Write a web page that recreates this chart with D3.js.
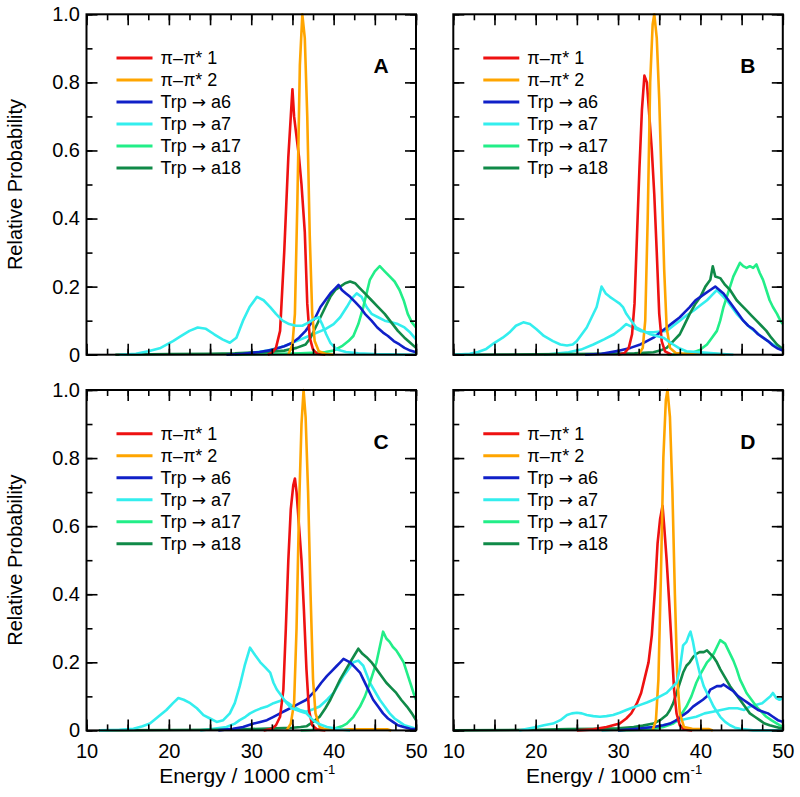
<!DOCTYPE html>
<html><head><meta charset="utf-8">
<script src="https://cdn.jsdelivr.net/npm/d3@7"></script>
<style>body{margin:0;background:#fff}svg{display:block}text{font-family:"Liberation Sans",Arial,Helvetica,sans-serif}</style>
</head><body>
<svg id="chart" width="800" height="797"></svg>
<script>
// ---------- DATA (energy in 1000 cm^-1, relative probability) ----------
const panelLabels = ["A","B","C","D"];
const seriesNames = ["π–π* 1","π–π* 2","Trp → a6","Trp → a7","Trp → a17","Trp → a18"];
const seriesColors = ["#ee1111","#ffa500","#1020c8","#33eeee","#22ee88","#108a48"];
const xTickLabels = [10,20,30,40,50];
const yTickLabels = [0,0.2,0.4,0.6,0.8,1.0];

// Panel A
const A_red = [[32,0],[32.5,0.005],[33,0.02],[33.5,0.07],[34,0.3],[34.5,0.58],[34.8,0.7],[35,0.78],[35.2,0.7],[35.5,0.64],[35.8,0.58],[36.1,0.5],[36.5,0.36],[36.8,0.15],[37.1,0.05],[37.5,0.015],[38,0.003],[39,0]];
const A_orange = [[34.5,0],[35,0.03],[35.3,0.12],[35.6,0.45],[35.9,0.85],[36.2,1.0],[36.5,0.93],[36.8,0.7],[37.1,0.35],[37.4,0.12],[37.7,0.04],[38.2,0.01],[39,0.003],[40,0]];
const A_blue = [[27,0],[29,0.003],[31,0.008],[32.7,0.015],[34,0.025],[35,0.035],[35.8,0.05],[36.6,0.07],[37.2,0.09],[37.8,0.11],[38.4,0.14],[39,0.16],[39.6,0.18],[40.2,0.195],[40.6,0.205],[41,0.19],[41.5,0.18],[42,0.17],[42.6,0.155],[43.2,0.14],[43.8,0.12],[44.6,0.1],[45.3,0.08],[46,0.065],[46.6,0.055],[47.3,0.04],[48,0.03],[48.6,0.02],[49.3,0.012],[50,0.007]];
const A_cyan = [[14,0],[16,0.003],[17.5,0.01],[19,0.02],[20.5,0.04],[21.5,0.055],[22.5,0.07],[23.5,0.08],[24.5,0.076],[25.5,0.06],[26.5,0.045],[27.4,0.035],[28.2,0.05],[29,0.1],[29.8,0.14],[30.7,0.17],[31.5,0.16],[32.3,0.14],[33,0.12],[33.8,0.1],[34.6,0.09],[35.4,0.085],[36.2,0.085],[37,0.095],[37.6,0.105],[38.2,0.11],[38.6,0.09],[39.1,0.06],[39.6,0.035],[40.4,0.015],[41.5,0.008],[43,0.004],[45,0.002],[50,0]];
const A_cyan2 = [[27,0],[30,0.005],[32,0.012],[34,0.025],[35.5,0.04],[37,0.055],[38,0.065],[39,0.075],[40,0.09],[40.8,0.11],[41.6,0.14],[42.2,0.165],[42.8,0.18],[43.4,0.17],[44,0.14],[44.6,0.12],[45.4,0.11],[46.2,0.1],[47,0.095],[47.8,0.09],[48.6,0.08],[49.3,0.065],[50,0.045]];
const A_ltgreen = [[28,0],[32,0.002],[36,0.004],[38,0.006],[39,0.008],[40,0.012],[41,0.025],[41.8,0.04],[42.4,0.055],[43,0.09],[43.6,0.14],[44,0.18],[44.4,0.22],[45,0.245],[45.6,0.26],[46.2,0.245],[46.8,0.23],[47.4,0.215],[48,0.19],[48.5,0.16],[49,0.12],[49.5,0.095],[50,0.08]];
const A_dkgreen = [[13.5,0],[20,0.002],[25,0.003],[28,0.004],[30,0.006],[32,0.008],[34,0.012],[35.5,0.02],[36.6,0.03],[37.2,0.05],[37.8,0.08],[38.4,0.11],[39,0.14],[39.6,0.17],[40.2,0.19],[40.8,0.2],[41.4,0.21],[42,0.215],[42.6,0.21],[43.2,0.195],[43.8,0.18],[44.6,0.16],[45.4,0.14],[46.2,0.12],[47,0.095],[47.8,0.07],[48.6,0.05],[49.3,0.035],[50,0.02]];

// Panel B
const B_red = [[30,0],[30.8,0.005],[31.3,0.02],[31.7,0.06],[32,0.15],[32.3,0.35],[32.6,0.55],[32.9,0.72],[33.2,0.82],[33.5,0.8],[33.8,0.7],[34.1,0.6],[34.4,0.47],[34.7,0.3],[35,0.12],[35.3,0.04],[35.7,0.01],[36.5,0]];
const B_orange = [[32.5,0],[33,0.02],[33.3,0.1],[33.6,0.4],[33.9,0.8],[34.2,0.97],[34.4,1.0],[34.7,0.93],[35,0.75],[35.3,0.5],[35.6,0.25],[35.9,0.08],[36.3,0.02],[37,0.005],[38,0.003],[40,0.004],[42,0.002],[43,0]];
const B_blue = [[26,0],[28,0.003],[30.2,0.012],[31.5,0.02],[32.7,0.03],[33.5,0.04],[34.3,0.05],[35.1,0.065],[35.9,0.08],[36.7,0.095],[37.5,0.11],[38.1,0.125],[38.7,0.14],[39.4,0.16],[40,0.17],[40.6,0.18],[41.2,0.19],[41.8,0.2],[42.3,0.19],[42.8,0.18],[43.4,0.16],[44,0.14],[44.6,0.12],[45.2,0.1],[45.8,0.085],[46.4,0.075],[47,0.06],[47.6,0.05],[48.2,0.04],[48.8,0.027],[49.4,0.018],[50,0.012]];
const B_cyan = [[10,0],[12,0.003],[13,0.008],[14,0.017],[15,0.035],[16,0.05],[16.8,0.065],[17.6,0.085],[18.5,0.095],[19.3,0.09],[20.1,0.075],[21,0.055],[22.1,0.04],[23,0.03],[23.8,0.027],[24.5,0.03],[25,0.04],[25.6,0.06],[26.2,0.08],[26.8,0.11],[27.4,0.14],[28,0.2],[28.5,0.18],[29,0.17],[29.6,0.16],[30.2,0.15],[30.6,0.14],[31,0.12],[31.6,0.1],[32.2,0.08],[33,0.07],[33.9,0.06],[34.7,0.055],[35.5,0.05],[36.1,0.04],[36.7,0.03],[37.5,0.018],[38.3,0.01],[40.4,0.006],[42.4,0.003],[44,0]];
const B_cyan2 = [[21,0],[24,0.007],[25.5,0.015],[27,0.03],[28.3,0.045],[29.5,0.06],[30.3,0.075],[31,0.09],[31.8,0.08],[32.7,0.07],[33.5,0.066],[34.3,0.066],[35.1,0.068],[35.9,0.07],[36.7,0.085],[37.5,0.1],[38.3,0.115],[39.2,0.13],[40,0.145],[40.8,0.16],[41.4,0.175],[42,0.19],[42.6,0.175],[43.2,0.16],[43.8,0.14],[44.4,0.12],[45.2,0.1],[46,0.08],[46.8,0.065],[47.6,0.05],[48.2,0.04],[48.8,0.03],[49.4,0.022],[50,0.017]];
const B_ltgreen = [[36,0],[38,0.003],[39.2,0.007],[40,0.015],[40.8,0.03],[41.4,0.05],[42,0.07],[42.4,0.1],[42.8,0.14],[43.2,0.17],[43.6,0.2],[44,0.23],[44.4,0.25],[44.8,0.27],[45.2,0.26],[45.6,0.255],[46,0.26],[46.4,0.255],[46.8,0.265],[47.2,0.24],[47.6,0.22],[48,0.19],[48.4,0.16],[48.8,0.14],[49.3,0.12],[49.7,0.1],[50,0.09]];
const B_dkgreen = [[10,0],[20,0.001],[28,0.003],[32,0.004],[34.3,0.007],[35.1,0.012],[35.9,0.02],[36.7,0.04],[37.5,0.06],[38.1,0.09],[38.7,0.12],[39.4,0.15],[40,0.17],[40.6,0.2],[41.2,0.22],[41.5,0.26],[41.8,0.23],[42.4,0.225],[43,0.205],[43.6,0.19],[44.4,0.16],[45,0.145],[45.6,0.13],[46.2,0.115],[46.8,0.1],[47.4,0.085],[48,0.07],[48.6,0.05],[49.3,0.03],[50,0.017]];

// Panel C
const C_red = [[31.5,0],[32.5,0.005],[33,0.015],[33.5,0.04],[33.9,0.12],[34.2,0.3],[34.5,0.5],[34.8,0.65],[35.1,0.72],[35.3,0.74],[35.5,0.7],[35.8,0.6],[36.1,0.5],[36.4,0.35],[36.7,0.18],[37,0.06],[37.4,0.015],[38,0.003],[39,0]];
const C_orange = [[34.3,0],[34.8,0.02],[35.2,0.08],[35.5,0.3],[35.8,0.65],[36.1,0.9],[36.35,1.0],[36.6,0.92],[36.9,0.7],[37.2,0.4],[37.5,0.15],[37.8,0.05],[38.3,0.01],[39,0.003],[43,0.003],[46.5,0.003],[47,0]];
const C_blue = [[26,0],[27.8,0.005],[29,0.01],[30.3,0.02],[31.1,0.025],[31.9,0.03],[32.7,0.04],[33.5,0.05],[34.3,0.06],[35.1,0.07],[35.9,0.08],[36.7,0.09],[37.3,0.105],[37.9,0.12],[38.5,0.14],[39.2,0.16],[39.8,0.175],[40.4,0.19],[40.8,0.2],[41.2,0.21],[41.6,0.205],[42,0.2],[42.6,0.185],[43.2,0.17],[43.6,0.15],[44,0.13],[44.4,0.11],[44.8,0.09],[45.4,0.07],[46,0.05],[46.6,0.035],[47.2,0.025],[47.8,0.015],[48.5,0.01],[49.3,0.005],[50,0.003]];
const C_cyan = [[11.6,0],[14,0.002],[15.7,0.005],[16.8,0.012],[17.7,0.02],[18.7,0.04],[19.7,0.06],[20.5,0.08],[21.15,0.095],[21.8,0.09],[22.6,0.08],[23.4,0.065],[24.2,0.045],[25,0.035],[25.8,0.025],[26.6,0.03],[27.4,0.05],[28,0.08],[28.6,0.13],[29.2,0.19],[29.85,0.243],[30.5,0.22],[31.1,0.2],[31.7,0.185],[32.3,0.17],[32.7,0.14],[33.1,0.12],[33.7,0.1],[34.3,0.08],[34.9,0.065],[35.5,0.06],[36.1,0.055],[36.7,0.05],[37.5,0.03],[38.3,0.018],[39.2,0.01],[40.8,0.003],[42,0]];
const C_cyan2 = [[23.8,0],[25.4,0.005],[27,0.01],[28,0.02],[28.6,0.03],[29.3,0.04],[29.85,0.05],[30.5,0.058],[31.1,0.064],[31.9,0.07],[32.7,0.08],[33.3,0.085],[33.9,0.09],[34.5,0.08],[35.1,0.07],[35.9,0.06],[36.7,0.055],[37.5,0.062],[38.3,0.07],[39.2,0.09],[40,0.11],[40.6,0.135],[41.2,0.16],[41.8,0.18],[42.4,0.2],[43,0.205],[43.6,0.19],[44,0.165],[44.4,0.14],[45,0.115],[45.6,0.09],[46.2,0.07],[46.8,0.05],[47.4,0.035],[48,0.025],[48.6,0.015],[49.3,0.01],[50,0.005]];
const C_ltgreen = [[36,0],[38,0.002],[40,0.005],[41,0.012],[41.6,0.02],[42.4,0.04],[43.2,0.07],[43.8,0.1],[44.4,0.14],[44.8,0.17],[45.2,0.2],[45.6,0.245],[46,0.29],[46.4,0.27],[46.8,0.26],[47.2,0.245],[47.6,0.235],[48,0.22],[48.5,0.2],[48.9,0.17],[49.3,0.14],[49.7,0.11],[50,0.09]];
const C_dkgreen = [[11.5,0],[20,0.001],[25,0.002],[30,0.004],[33,0.006],[35,0.008],[36,0.01],[36.7,0.012],[37.5,0.025],[38.3,0.04],[39,0.065],[39.6,0.09],[40.2,0.12],[40.8,0.15],[41.4,0.175],[42,0.2],[42.5,0.22],[43,0.24],[43.5,0.225],[44,0.215],[44.6,0.2],[45.2,0.18],[45.8,0.16],[46.4,0.14],[47,0.125],[47.6,0.11],[48.2,0.09],[48.9,0.07],[49.5,0.05],[50,0.03]];

// Panel D
const D_red = [[25,0],[27,0.003],[28.6,0.01],[30.2,0.02],[31,0.035],[31.6,0.05],[32.3,0.08],[32.8,0.11],[33.2,0.15],[33.7,0.2],[34.1,0.28],[34.5,0.42],[34.8,0.55],[35.1,0.62],[35.4,0.66],[35.6,0.6],[35.9,0.5],[36.2,0.38],[36.5,0.25],[36.8,0.12],[37.1,0.05],[37.5,0.015],[38,0.003],[39,0]];
const D_orange = [[34.2,0],[34.6,0.03],[34.9,0.15],[35.2,0.45],[35.5,0.8],[35.8,0.97],[36,1.0],[36.3,0.92],[36.6,0.7],[36.9,0.4],[37.2,0.15],[37.5,0.05],[38,0.01],[39,0.005],[41,0.004],[41.5,0]];
const D_blue = [[30,0],[32.3,0.005],[34.3,0.01],[35.5,0.015],[36.3,0.02],[37.1,0.03],[37.9,0.045],[38.5,0.055],[39.1,0.07],[39.7,0.08],[40.3,0.09],[40.8,0.1],[41.2,0.12],[41.6,0.125],[42,0.13],[42.5,0.13],[42.8,0.135],[43.4,0.125],[44,0.115],[44.6,0.1],[45.2,0.09],[45.8,0.08],[46.4,0.07],[47,0.06],[47.6,0.055],[48.2,0.05],[48.8,0.04],[49.4,0.03],[50,0.025]];
const D_cyan = [[18,0],[19,0.005],[20.1,0.01],[21,0.015],[22.1,0.02],[23,0.03],[23.8,0.045],[24.4,0.05],[25,0.052],[25.6,0.05],[26.2,0.045],[27,0.042],[27.8,0.04],[28.6,0.042],[29.4,0.045],[30.2,0.052],[31,0.06],[31.8,0.067],[32.7,0.075],[33.5,0.082],[34.3,0.09],[35.1,0.1],[35.9,0.11],[36.5,0.125],[37.1,0.14],[37.5,0.18],[37.9,0.25],[38.3,0.26],[38.6,0.28],[38.8,0.29],[39.1,0.26],[39.4,0.22],[39.9,0.17],[40.4,0.13],[40.8,0.11],[41.2,0.09],[41.6,0.07],[42,0.055],[42.4,0.04],[43,0.025],[43.6,0.015],[44.2,0.008],[44.8,0.005],[46.4,0],[50,0]];
const D_cyan2 = [[28,0],[30,0.003],[32,0.005],[34,0.01],[35.5,0.015],[36.5,0.02],[37.5,0.03],[38.5,0.035],[39.5,0.04],[40.5,0.05],[41.5,0.055],[42.5,0.06],[43.5,0.065],[44.5,0.065],[45.3,0.06],[46,0.07],[46.8,0.075],[47.5,0.08],[48,0.09],[48.5,0.1],[48.8,0.11],[49.2,0.095],[49.6,0.09],[50,0.095]];
const D_ltgreen = [[30,0],[33,0.002],[34.3,0.005],[35.5,0.01],[36.7,0.02],[37.5,0.04],[38.3,0.07],[38.9,0.1],[39.5,0.14],[40.1,0.17],[40.8,0.2],[41.2,0.21],[41.6,0.225],[42,0.245],[42.4,0.265],[42.7,0.26],[43,0.255],[43.5,0.23],[44,0.205],[44.4,0.18],[44.8,0.15],[45.2,0.13],[45.6,0.11],[46.2,0.09],[46.8,0.07],[47.4,0.055],[48,0.04],[48.6,0.03],[49.3,0.02],[50,0.01]];
const D_dkgreen = [[10,0],[20,0.002],[24,0.004],[28,0.005],[30,0.006],[31.9,0.01],[33,0.014],[34.3,0.02],[35.1,0.03],[35.9,0.045],[36.3,0.06],[36.7,0.08],[37.1,0.11],[37.5,0.14],[37.9,0.17],[38.3,0.19],[38.7,0.2],[39.1,0.215],[39.5,0.225],[39.9,0.23],[40.4,0.23],[40.8,0.235],[41.2,0.225],[41.6,0.215],[42,0.2],[42.4,0.18],[43,0.155],[43.6,0.13],[44.2,0.11],[44.8,0.09],[45.4,0.07],[46,0.05],[46.6,0.04],[47.2,0.03],[47.8,0.02],[48.4,0.015],[49.2,0.01],[50,0.005]];

// ---------- LAYOUT ----------
const panels = [
  {label:"A", col:0, row:0, series:[A_red,A_orange,A_blue,A_cyan,A_ltgreen,A_dkgreen], extra:[A_cyan2]},
  {label:"B", col:1, row:0, series:[B_red,B_orange,B_blue,B_cyan,B_ltgreen,B_dkgreen], extra:[B_cyan2]},
  {label:"C", col:0, row:1, series:[C_red,C_orange,C_blue,C_cyan,C_ltgreen,C_dkgreen], extra:[C_cyan2]},
  {label:"D", col:1, row:1, series:[D_red,D_orange,D_blue,D_cyan,D_ltgreen,D_dkgreen], extra:[D_cyan2]}
];
const colX = [86.5, 453.3], rowY = [14.3, 390];
const W = 329.5, H = 340.4;
const drawOrder = [4,5,2,0,1,3]; // light green, dark green, blue, red, orange, cyan

const svg = d3.select("#chart");
const x = d3.scaleLinear().domain([10,50]).range([0,W]);
const y = d3.scaleLinear().domain([0,1]).range([H,0]);
const line = d3.line().x(d=>x(d[0])).y(d=>y(d[1]));

panels.forEach(p=>{
  const g = svg.append("g").attr("transform",`translate(${colX[p.col]},${rowY[p.row]})`);
  const showX = p.row===1, showY = p.col===0;

  // data lines
  const lg = g.append("g").attr("fill","none").attr("stroke-width",2.6).attr("stroke-linejoin","round");
  p.extra.forEach(s=>lg.append("path").attr("d",line(s)).attr("stroke",seriesColors[3]));
  drawOrder.forEach(i=>lg.append("path").attr("d",line(p.series[i])).attr("stroke",seriesColors[i]));

  // axes: minor & major ticks, inward, on all four sides
  const xMinor = d3.range(10,50.01,2.5), xMajor = d3.range(10,50.01,5);
  const yMinor = d3.range(0,1.001,0.1), yMajor = yTickLabels;
  const fmtY = v => v===0 ? "0" : d3.format(".1f")(v);
  const fmtX = v => xTickLabels.includes(v) ? String(v) : "";
  const axes = [
    [d3.axisBottom(x).tickValues(xMinor).tickSize(-6).tickFormat(""), `translate(0,${H})`],
    [d3.axisBottom(x).tickValues(xMajor).tickSize(-11).tickPadding(13).tickFormat(showX?fmtX:()=>""), `translate(0,${H})`],
    [d3.axisTop(x).tickValues(xMinor).tickSize(-6).tickFormat(""), null],
    [d3.axisTop(x).tickValues(xMajor).tickSize(-11).tickFormat(""), null],
    [d3.axisLeft(y).tickValues(yMinor).tickSize(-6).tickFormat(""), null],
    [d3.axisLeft(y).tickValues(yMajor).tickSize(-11).tickPadding(6.5).tickFormat(showY?fmtY:()=>""), null],
    [d3.axisRight(y).tickValues(yMinor).tickSize(-6).tickFormat(""), `translate(${W},0)`],
    [d3.axisRight(y).tickValues(yMajor).tickSize(-11).tickFormat(""), `translate(${W},0)`]
  ];
  axes.forEach(([ax,tr])=>{
    const a = g.append("g").call(ax);
    if(tr) a.attr("transform",tr);
    a.select(".domain").remove();
    a.selectAll("line").attr("stroke","#000").attr("stroke-width",1.6);
    a.selectAll("text").attr("font-size",20).attr("fill","#000")
      .attr("font-family",'"Liberation Sans",Arial,Helvetica,sans-serif');
  });
  g.append("rect").attr("width",W).attr("height",H).attr("fill","none").attr("stroke","#000").attr("stroke-width",2);

  // panel letter
  g.append("text").attr("x",W-35).attr("y",58.7).attr("text-anchor","middle")
    .attr("font-size",21).attr("font-weight","bold").text(p.label);

  // legend
  const leg = g.append("g");
  seriesNames.forEach((n,i)=>{
    const yy = 43.7 + 22*i;
    leg.append("line").attr("x1",30).attr("x2",66).attr("y1",yy).attr("y2",yy)
      .attr("stroke",seriesColors[i]).attr("stroke-width",3);
    const t = leg.append("text").attr("x",74).attr("y",yy).attr("dy","0.36em").attr("font-size",18);
    n.split(/(→)/).forEach(part=>{
      const ts = t.append("tspan").text(part);
      if(part==="→") ts.attr("font-family",'"DejaVu Sans",sans-serif').attr("font-size",17);
    });
  });

  // axis titles
  if(showY){
    svg.append("text").attr("transform",`translate(21.5,${rowY[p.row]+H/2}) rotate(-90)`)
      .attr("text-anchor","middle").attr("font-size",20).text("Relative Probability");
  }
  if(showX){
    const t = svg.append("text").attr("x",colX[p.col]+W/2-4).attr("y",783)
      .attr("text-anchor","middle").attr("font-size",21);
    t.append("tspan").text("Energy / 1000 cm");
    t.append("tspan").attr("dy",-9).attr("font-size",13).text("-1");
  }
});
</script>
</body></html>
